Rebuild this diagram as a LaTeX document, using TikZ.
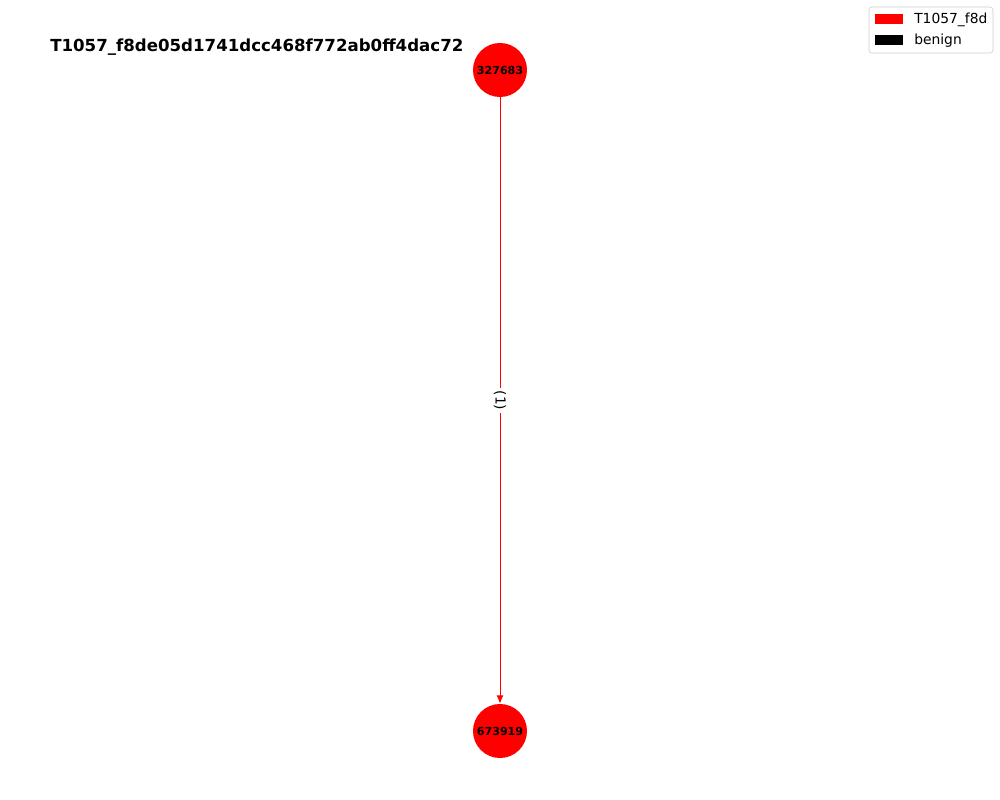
\documentclass[tikz,border=0pt]{standalone}
\usepackage{fontspec}
\setmainfont{DejaVu Sans}
\usetikzlibrary{arrows.meta}
\begin{document}
\begin{tikzpicture}[x=0.01in, y=-0.01in,
  hostnode/.style={circle, fill=nodered, minimum size=0.54in, inner sep=0pt, font=\fontsize{8}{9}\selectfont\bfseries},
  flow/.style={draw=nodered, line width=0.7pt, -{Latex[length=6pt, width=5pt]}},
  legendtext/.style={anchor=west, inner sep=0pt, font=\fontsize{10}{12}\selectfont}]
\definecolor{nodered}{HTML}{FF0000}
\useasboundingbox (0, 0) rectangle (1000, 800);
\node[anchor=west, inner sep=0pt, font=\fontsize{12}{14}\selectfont\bfseries] (title) at (50, 47) {T1057\_f8de05d1741dcc468f772ab0ff4dac72};
\node[hostnode] (src) at (500, 70) {327683};
\node[hostnode] (dst) at (500, 731) {673919};
\draw[flow] (src) -- node[fill=white, rotate=-90, inner sep=2pt, font=\fontsize{10}{12}\selectfont] (count) {(1)} (dst);
% legend
\draw[black!20, rounded corners=2pt, fill=white] (869, 7) rectangle (993, 53);
\fill[nodered] (875, 14) rectangle (903, 24);
\node[legendtext] (attack) at (914, 20) {T1057\_f8d};
\fill[black] (875, 35) rectangle (903, 45);
\node[legendtext] (benign) at (914, 41) {benign};
\end{tikzpicture}
\end{document}
